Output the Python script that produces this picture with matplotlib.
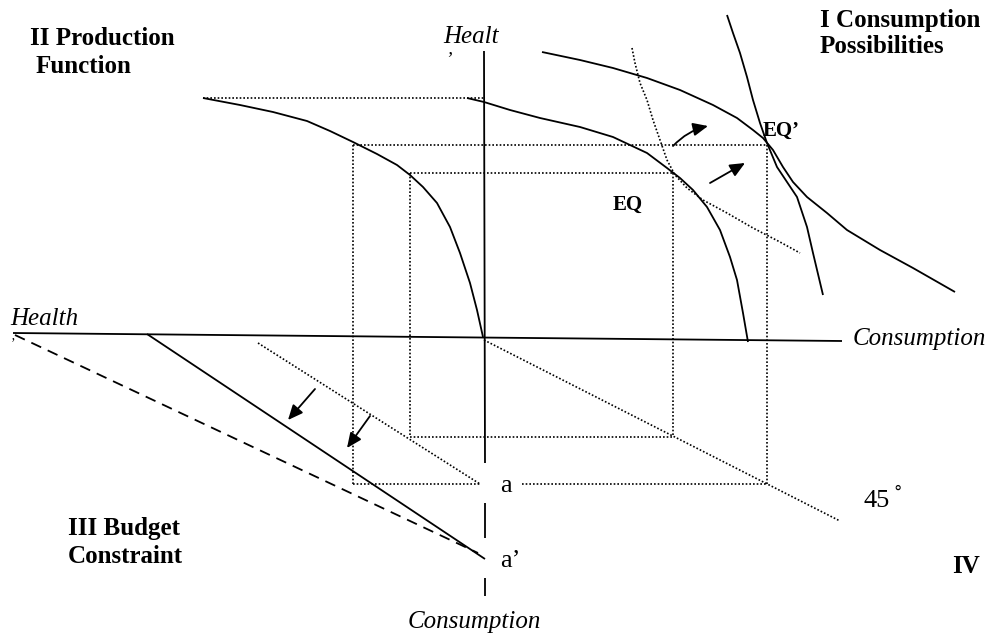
import matplotlib
matplotlib.use('Agg')
import matplotlib.pyplot as plt

# all coordinates in pixel space (y grows downward)

# quadrant II: production function
prod_x = [203, 240, 273, 307, 330, 353, 377, 397, 410, 423, 437, 450, 460, 470, 477, 483]
prod_y = [98, 105, 112, 121, 131, 142, 154, 165, 175, 187, 203, 227, 253, 283, 310, 337]

# quadrant I: consumption possibility frontiers
ppf_x = [467, 484, 510, 540, 580, 613, 647, 667, 680, 693, 707, 720, 730, 737, 743, 748]
ppf_y = [98, 102, 110, 118, 127, 137, 153, 168, 178, 190, 207, 230, 257, 280, 313, 342]
ppf2_x = [542, 580, 613, 647, 680, 713, 737, 753, 763, 773, 783, 793, 807, 827, 847, 880, 913, 955]
ppf2_y = [52, 60, 68, 78, 90, 105, 118, 130, 138, 150, 167, 182, 197, 213, 230, 250, 268, 292]

# indifference curves
ic_x = [632, 635, 640, 647, 653, 660, 667, 675, 687, 703, 727, 753, 780, 800]
ic_y = [48, 63, 83, 100, 120, 140, 160, 175, 188, 200, 213, 228, 242, 253]
ic2_x = [727, 733, 740, 747, 753, 760, 767, 777, 787, 797, 807, 813, 823]
ic2_y = [15, 33, 53, 77, 100, 123, 143, 167, 182, 197, 227, 253, 295]

# axes
h_axis = ([13, 842], [333, 341])
v_axis_parts = [([484, 485], [51, 463]), ([485, 485], [503, 538]), ([485, 485], [578, 596])]

# projection lines (dotted)
dotted = [
    ([203, 484], [98, 98]),
    ([353, 767], [145, 145]),
    ([410, 673], [173, 173]),
    ([353, 353], [145, 484]),
    ([410, 410], [173, 437]),
    ([673, 673], [173, 437]),
    ([767, 767], [145, 484]),
    ([410, 673], [437, 437]),
    ([353, 480], [484, 484]),
    ([522, 767], [484, 484]),
    ([258, 480], [343, 484]),
    ([484, 840], [340, 521]),
]

# quadrant III budget constraints
budget = ([147, 485], [334, 559])
budget_new = ([15, 478], [335, 553])

# shift arrows: (start, end, curvature)
arrows = [
    ((673, 146), (708, 126), -0.15),
    ((710, 183), (745, 163), 0.0),
    ((315, 389), (288, 420), 0.0),
    ((370, 416), (347, 448), 0.0),
]

fig = plt.figure(figsize=(9.95, 6.35), dpi=100)
ax = fig.add_axes([0, 0, 1, 1])
ax.set_xlim(0, 995)
ax.set_ylim(635, 0)
ax.axis('off')

solid = dict(color='black', lw=1.3, solid_capstyle='butt', solid_joinstyle='round')
dot = dict(color='black', lw=1.2, linestyle=(0, (1, 1.2)))

ax.plot(*h_axis, **solid)
for xs, ys in v_axis_parts:
    ax.plot(xs, ys, **solid)

for xs, ys in dotted:
    ax.plot(xs, ys, **dot)

ax.plot(prod_x, prod_y, **solid)
ax.plot(ppf_x, ppf_y, **solid)
ax.plot(ppf2_x, ppf2_y, **solid)
ax.plot(ic2_x, ic2_y, **solid)
ax.plot(ic_x, ic_y, **dot)

ax.plot(*budget, **solid)
ax.plot(*budget_new, color='black', lw=1.3, linestyle=(0, (6, 4)))

for (x0, y0), (x1, y1), rad in arrows:
    ax.annotate('', xy=(x1, y1), xytext=(x0, y0),
                arrowprops=dict(arrowstyle='-|>,head_length=0.9,head_width=0.4',
                                color='black', lw=1.3,
                                connectionstyle=f'arc3,rad={rad}',
                                shrinkA=0, shrinkB=0))

serif = 'Liberation Serif'
bold = dict(fontfamily=serif, fontweight='bold', fontsize=18, va='baseline', ha='left')
ital = dict(fontfamily=serif, fontstyle='italic', fontsize=18, va='baseline', ha='left')
plain = dict(fontfamily=serif, fontsize=19, va='baseline', ha='left')

ax.text(30, 45, 'II Production', **bold)
ax.text(36, 73, 'Function', **bold)
ax.text(820, 27, 'I Consumption', **bold)
ax.text(820, 53, 'Possibilities', **bold)
ax.text(68, 535, 'III Budget', **bold)
ax.text(68, 563, 'Constraint', **bold)
ax.text(952, 573, 'IV', **bold)
ax.text(613, 210, 'EQ', fontfamily=serif, fontweight='bold', fontsize=15, va='baseline')
ax.text(763, 136, 'EQ\u2019', fontfamily=serif, fontweight='bold', fontsize=15, va='baseline')

ax.text(443, 43, 'Healt', **ital)
ax.text(445, 64, '\u2019', fontfamily=serif, fontstyle='italic', fontsize=14, va='baseline')
ax.text(10, 325, 'Health', **ital)
ax.text(11, 347, '\u2019', fontfamily=serif, fontsize=10, va='baseline')
ax.text(853, 345, 'Consumption', **ital)
ax.text(408, 628, 'Consumption', **ital)

ax.text(500, 492, 'a', **plain)
ax.text(500, 567, 'a\u2019', **plain)
ax.text(863, 507, '45', **plain)
ax.text(893, 498, '\u00b0', fontfamily='DejaVu Sans', fontsize=12, va='baseline')

fig.savefig('out.png', dpi=100)
